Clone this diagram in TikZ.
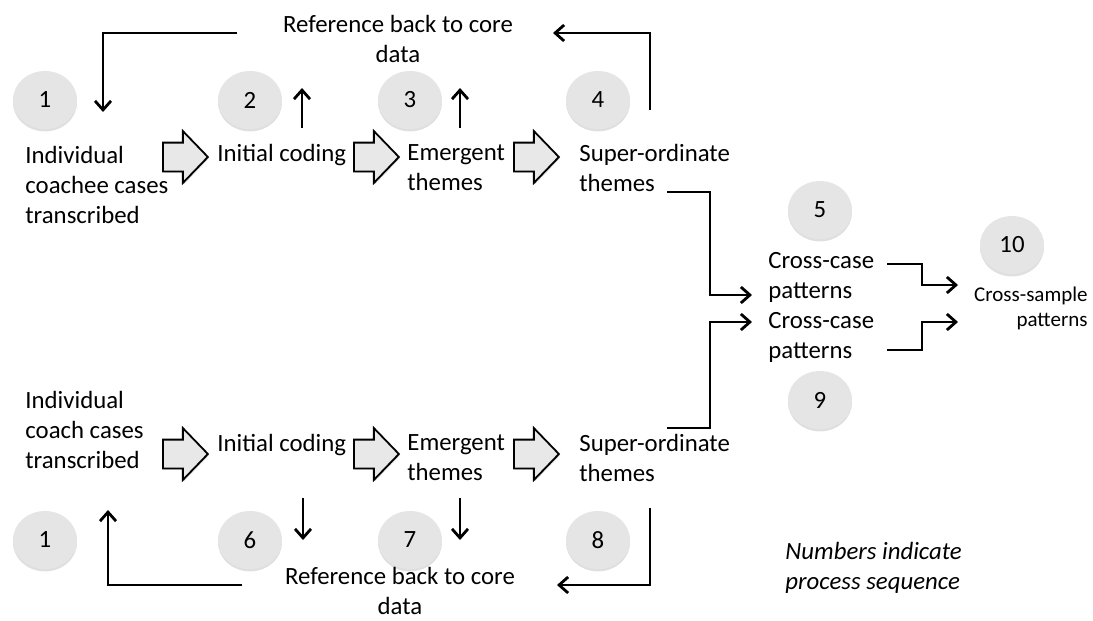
\documentclass[tikz,border=0pt]{standalone}
\usepackage{fontspec}
\setmainfont{Carlito}
\usetikzlibrary{arrows.meta,shapes.geometric,shapes.arrows,shadows}

\tikzset{
	num/.style={ellipse, fill=gray!20, minimum width=32pt, minimum height=29pt, inner sep=0pt,
		drop shadow={opacity=0.25, shadow xshift=0pt, shadow yshift=-1.2pt}, font=\fontsize{12.4}{15}\selectfont},
	lbl/.style={anchor=west, align=left, inner sep=0pt, font=\fontsize{12.4}{15}\selectfont},
	barrow/.style={single arrow, anchor=tail, draw=black, line width=0.9pt, fill=gray!18, inner xsep=0pt, inner ysep=6.75pt,
		minimum height=22.5pt, single arrow head extend=5.75pt, single arrow tip angle=92,
		drop shadow={opacity=0.3, shadow xshift=0.6pt, shadow yshift=-0.6pt}},
	conn/.style={line width=1.4pt, -{Straight Barb[length=4.5pt,width=8pt]}},
}

\begin{document}
\begin{tikzpicture}[x=0.5pt, y=-0.5pt]
	\useasboundingbox (0,0) rectangle (1093,621);

	% coachee sample
	\node[num] (c1a) at (45,100) {1};
	\node[num] (c2) at (250,100) {2};
	\node[num] (c3) at (410,100) {3};
	\node[num] (c4) at (598,100) {4};
	\node[lbl] (t1a) at (25,185) {Individual\\coachee cases\\transcribed};
	\node[lbl] (t2a) at (217,155) {Initial coding};
	\node[lbl] (t3a) at (407,168) {Emergent\\themes};
	\node[lbl] (t4a) at (579,168) {Super-ordinate\\themes};
	\node[barrow] (ba1) at (162,157) {};
	\node[barrow] (ba2) at (353,157) {};
	\node[barrow] (ba3) at (513,157) {};
	\node[lbl, anchor=center, align=center] (refa) at (398,39) {Reference back to core\\data};

	\coordinate (la1) at (237,33);
	\coordinate (la2) at (103,33);
	\coordinate (la3) at (103,112);
	\draw[conn] (la1) -- (la2) -- (la3);
	\coordinate (ua1) at (302,128);
	\coordinate (ua2) at (302,88);
	\draw[conn] (ua1) -- (ua2);
	\coordinate (ub1) at (460,128);
	\coordinate (ub2) at (460,88);
	\draw[conn] (ub1) -- (ub2);
	\coordinate (ra1) at (650,110);
	\coordinate (ra2) at (650,33);
	\coordinate (ra3) at (553,33);
	\draw[conn] (ra1) -- (ra2) -- (ra3);

	% coach sample
	\node[lbl] (t1b) at (25,430) {Individual\\coach cases\\transcribed};
	\node[lbl] (t2b) at (217,445) {Initial coding};
	\node[lbl] (t3b) at (407,458) {Emergent\\themes};
	\node[lbl] (t4b) at (579,458) {Super-ordinate\\themes};
	\node[barrow] (ba4) at (162,454) {};
	\node[barrow] (ba5) at (353,454) {};
	\node[barrow] (ba6) at (513,454) {};
	\node[num] (c1b) at (45,540) {1};
	\node[num] (c6) at (250,540) {6};
	\node[num] (c7) at (410,540) {7};
	\node[num] (c8) at (598,540) {8};
	\node[lbl, anchor=center, align=center] (refb) at (400,591) {Reference back to core\\data};

	\coordinate (da1) at (303,498);
	\coordinate (da2) at (303,540);
	\draw[conn] (da1) -- (da2);
	\coordinate (db1) at (460,498);
	\coordinate (db2) at (460,540);
	\draw[conn] (db1) -- (db2);
	\coordinate (rb1) at (650,508);
	\coordinate (rb2) at (650,585);
	\coordinate (rb3) at (557,585);
	\draw[conn] (rb1) -- (rb2) -- (rb3);
	\coordinate (lb1) at (242,585);
	\coordinate (lb2) at (108,585);
	\coordinate (lb3) at (108,510);
	\draw[conn] (lb1) -- (lb2) -- (lb3);

	% cross-case and cross-sample
	\node[num] (c5) at (820,210) {5};
	\node[num] (c9) at (820,400) {9};
	\node[num] (c10) at (1012,245) {10};
	\node[lbl] (cc1) at (768,277) {Cross-case\\patterns};
	\node[lbl] (cc2) at (768,337) {Cross-case\\patterns};
	\node[lbl, anchor=east, align=right, font=\fontsize{10.5}{12.5}\selectfont] (cs) at (1088,308) {Cross-sample\\patterns};

	\coordinate (sa1) at (667,192);
	\coordinate (sa2) at (710,192);
	\coordinate (sa3) at (710,295);
	\coordinate (sa4) at (752,295);
	\draw[conn] (sa1) -- (sa2) -- (sa3) -- (sa4);
	\coordinate (sb1) at (667,428);
	\coordinate (sb2) at (710,428);
	\coordinate (sb3) at (710,322);
	\coordinate (sb4) at (752,322);
	\draw[conn] (sb1) -- (sb2) -- (sb3) -- (sb4);
	\coordinate (xa1) at (887,264);
	\coordinate (xa2) at (922,264);
	\coordinate (xa3) at (922,285);
	\coordinate (xa4) at (958,285);
	\draw[conn] (xa1) -- (xa2) -- (xa3) -- (xa4);
	\coordinate (xb1) at (887,350);
	\coordinate (xb2) at (922,350);
	\coordinate (xb3) at (922,322);
	\coordinate (xb4) at (958,322);
	\draw[conn] (xb1) -- (xb2) -- (xb3) -- (xb4);

	\node[lbl, font=\fontsize{12.4}{15}\selectfont\itshape] (note) at (785,568) {Numbers indicate\\process sequence};
\end{tikzpicture}
\end{document}
